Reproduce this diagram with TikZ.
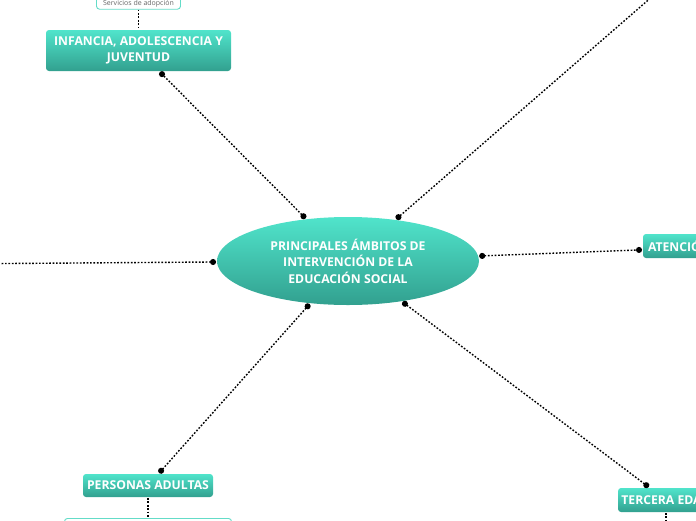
\documentclass[tikz,border=0pt]{standalone}
\usepackage{fontspec}
\setmainfont{Open Sans}
\usepackage{xcolor}
\usepackage{tikz}
\usetikzlibrary{shapes.geometric, arrows.meta, positioning}
\definecolor{tealtop}{RGB}{80,228,203}
\definecolor{tealbot}{RGB}{50,160,143}
\definecolor{tealline}{RGB}{100,220,200}
\tikzstyle{topic} = [rectangle, rounded corners=3pt,
	top color=tealtop, bottom color=tealbot,
	text=white, align=center, outer sep=1pt,
	font=\bfseries\fontsize{12.2}{16.5}\selectfont]
\tikzstyle{subtopic} = [draw=tealline, line width=0.9pt, fill=white,
	rounded corners=3pt, text=black!60,
	font=\fontsize{7}{8}\selectfont]
\tikzstyle{link} = [dash pattern=on 1.7pt off 1.7pt, line width=1.4pt]
\tikzstyle{dotlink} = [link, {Circle[length=6pt]}-{Circle[length=6pt]}]
\tikzstyle{halflink} = [link, {Circle[length=6pt]}-]

\begin{document}
\begin{tikzpicture}[x=1pt, y=-1pt]
			\useasboundingbox (0,0) rectangle (696,520);
			
			\node (ambitos) [ellipse, minimum width=262, minimum height=88, inner sep=0pt,
				top color=tealtop, bottom color=tealbot, text=white, align=center, outer sep=1pt,
				font=\bfseries\fontsize{12.2}{16.5}\selectfont] at (348,261)
				{PRINCIPALES ÁMBITOS DE\\INTERVENCIÓN DE LA\\EDUCACIÓN SOCIAL};
			
			\node (infancia) [topic, minimum width=185, minimum height=41] at (138.5,50.5)
				{INFANCIA, ADOLESCENCIA Y\\JUVENTUD};
			\node (servicios) [subtopic, minimum width=84, minimum height=12, inner sep=1pt] at (138.5,3.2)
				{Servicios de adopción};
			\node (personas) [topic, minimum width=130, minimum height=23] at (148,485.5)
				{PERSONAS ADULTAS};
			\node (personasSub) [subtopic, minimum width=167, minimum height=18, anchor=north] at (148,518) {};
			\node (atencion) [topic, minimum width=200, minimum height=24, text width=190,
				align=left, anchor=west] at (642,246) {ATENCIÓN};
			\node (tercera) [topic, minimum width=94, minimum height=24] at (666,500)
				{TERCERA EDAD};
			
			\coordinate (ramaNE) at (700,-45);
			\coordinate (ramaW) at (-60,264);
			\coordinate (terceraSub) at (666,545);
			
			\draw [dotlink] (ambitos) -- (infancia);
			\draw [dotlink] (ambitos) -- (personas);
			\draw [dotlink] (ambitos) -- (atencion);
			\draw [dotlink] (ambitos) -- (tercera);
			\draw [halflink] (ambitos) -- (ramaNE);
			\draw [halflink] (ambitos) -- (ramaW);
			
			\draw [link] (servicios) -- (infancia);
			\draw [link] (personas) -- (personasSub);
			\draw [link] (tercera) -- (terceraSub);
		\end{tikzpicture}
\end{document}
